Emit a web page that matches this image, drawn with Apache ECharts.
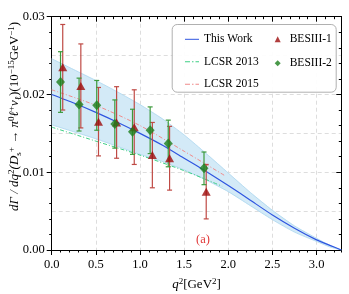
<!DOCTYPE html>
<html>
<head>
<meta charset="utf-8">
<script src="https://cdn.jsdelivr.net/npm/echarts@6/dist/echarts.min.js"></script>
<style>html,body{margin:0;padding:0;background:#fff}#c{width:349px;height:294px}</style>
</head>
<body>
<div id="c"></div>
<script>
// ---- data ----
const qGrid      = [0, 0.25, 0.5, 0.75, 1.0, 1.25, 1.5, 1.75, 2.0, 2.25, 2.5, 2.75, 3.0, 3.15, 3.28];
const thisWork   = [0.0200, 0.0189, 0.0177, 0.0164, 0.0150, 0.0135, 0.0118, 0.0101, 0.0083, 0.0064, 0.0045, 0.0028, 0.0013, 0.0006, 0.0];
const bandUpper  = [0.0246, 0.0232, 0.0218, 0.0203, 0.0187, 0.0169, 0.0148, 0.0124, 0.0099, 0.0074, 0.0051, 0.0031, 0.0015, 0.0006, 0.0];
const bandLower  = [0.0161, 0.0152, 0.0143, 0.0133, 0.0123, 0.0114, 0.0103, 0.0090, 0.0075, 0.0057, 0.0039, 0.0023, 0.0011, 0.0004, 0.0];
const lcsr2013Q  = [0, 0.5, 1.0, 1.5, 1.93];
const lcsr2013   = [0.0158, 0.0140, 0.0122, 0.0102, 0.0082];
const lcsr2015Q  = [0, 0.5, 1.0, 1.5, 1.97];
const lcsr2015   = [0.0206, 0.0186, 0.0160, 0.0127, 0.0095];
const bes1Q      = [0.125, 0.33, 0.53, 0.735, 0.935, 1.14, 1.335, 1.75];
const bes1       = [0.0235, 0.0211, 0.0165, 0.0164, 0.0158, 0.0122, 0.0118, 0.0075];
const bes1Err    = [0.0055, 0.0054, 0.0044, 0.0046, 0.0048, 0.0042, 0.0041, 0.0035];
const bes2Q      = [0.10, 0.31, 0.51, 0.715, 0.915, 1.115, 1.32, 1.725];
const bes2       = [0.0216, 0.0187, 0.0186, 0.0162, 0.0152, 0.0154, 0.0137, 0.0105];
const bes2Err    = [0.0039, 0.0034, 0.0032, 0.0031, 0.0029, 0.0030, 0.0030, 0.0021];
const xMin = 0, xMax = 3.28, xStep = 0.5, xMinor = 0.1;
const yMin = 0, yMax = 0.03, yStep = 0.01, yMinor = 0.002, yGrid = 0.005;
const legendLines = ['This Work', 'LCSR 2013', 'LCSR 2015'];
const legendPoints = ['BESIII-1', 'BESIII-2'];

const FONT = 'Liberation Serif';
const zip = (a, b) => a.map((v, i) => [v, b[i]]);
const chart = echarts.init(document.getElementById('c'), null, {renderer: 'canvas'});

function errorBars(name, xs, ys, es, color) {
  return {
    name: name + ' err', type: 'custom', xAxisIndex: 0, yAxisIndex: 0, z: 3,
    data: xs.map((x, i) => [x, ys[i], es[i]]),
    encode: {x: 0, y: 1},
    renderItem: function (params, api) {
      const x = api.value(0), y = api.value(1), e = api.value(2);
      const t = api.coord([x, y + e]), b = api.coord([x, y - e]);
      const w = 2.5, st = {stroke: color, lineWidth: 1.2};
      return {type: 'group', children: [
        {type: 'line', shape: {x1: t[0], y1: t[1], x2: b[0], y2: b[1]}, style: st},
        {type: 'line', shape: {x1: t[0] - w, y1: t[1], x2: t[0] + w, y2: t[1]}, style: st},
        {type: 'line', shape: {x1: b[0] - w, y1: b[1], x2: b[0] + w, y2: b[1]}, style: st}
      ]};
    }
  };
}

const tickFont = {fontFamily: FONT, fontSize: 12.5, color: '#000'};
const axLine = {show: true, onZero: false, lineStyle: {color: '#000', width: 1}};
function xAx(pos, interval, len, inside, labels, split) {
  return {type: 'value', min: xMin, max: xMax, interval: interval, position: pos,
    axisLine: axLine, axisTick: {show: true, inside: inside, length: len, lineStyle: {color: '#000'}},
    axisLabel: labels ? Object.assign({show: true, margin: 8, showMaxLabel: false,
      formatter: v => v.toFixed(1)}, tickFont) : {show: false},
    splitLine: split ? {show: true, lineStyle: {color: '#dddddd', type: [4, 3], width: 1}} : {show: false}};
}
function yAx(pos, interval, len, inside, labels, split) {
  return {type: 'value', min: yMin, max: yMax, interval: interval, position: pos,
    axisLine: split ? {show: false} : axLine,
    axisTick: {show: !split, inside: inside, length: len, lineStyle: {color: '#000'}},
    axisLabel: labels ? Object.assign({show: true, margin: 7,
      formatter: v => v.toFixed(2)}, tickFont) : {show: false},
    splitLine: split ? {show: true, lineStyle: {color: '#dddddd', type: [4, 3], width: 1}} : {show: false}};
}

const xa0 = xAx('bottom', xStep, 5, false, true, true);
xa0.name = '{i|q}{sp|2}{n|[GeV}{sp|2}{n|]}';
xa0.nameLocation = 'middle';
xa0.nameGap = 27;
xa0.nameMoveOverlap = false;
xa0.nameTextStyle = {fontFamily: FONT, fontSize: 13, color: '#000', rich: {
  i: {fontFamily: FONT, fontSize: 13, fontStyle: 'italic', lineHeight: 16, color: '#000'},
  n: {fontFamily: FONT, fontSize: 13, lineHeight: 16, color: '#000'},
  sp: {fontFamily: FONT, fontSize: 9, lineHeight: 9, verticalAlign: 'top', color: '#000'}
}};
const ya0 = yAx('left', yStep, 5, false, true, false);
ya0.name = '{i|dΓ / dq}{sp|2}{i|(D}{sb|s}{sp|+}{i| → π}{sp|0}{i|ℓ}{sp|+}{i|ν}{sb|ℓ}{n|)(10}{sp|−15}{n|GeV}{sp|−1}{n|)}';
ya0.nameLocation = 'middle';
ya0.nameGap = 29;
ya0.nameRotate = 90;
ya0.nameMoveOverlap = false;
ya0.nameTextStyle = {fontFamily: FONT, fontSize: 13, color: '#000', padding: [0, 0, 0, 34], rich: {
  i: {fontFamily: FONT, fontSize: 13, fontStyle: 'italic', lineHeight: 16, color: '#000'},
  n: {fontFamily: FONT, fontSize: 13, lineHeight: 16, color: '#000'},
  sp: {fontFamily: FONT, fontSize: 9, lineHeight: 9, verticalAlign: 'top', color: '#000'},
  sb: {fontFamily: FONT, fontSize: 9, lineHeight: 9, verticalAlign: 'bottom', color: '#000'}
}};

const legendText = {fontFamily: FONT, fontSize: 11.5, color: '#000', lineHeight: 12};
const DASHDOT = 'path://M0,0h5v1h-5z M7,0h1.5v1h-1.5z M10.5,0h3.5v1h-3.5z';
const SOLID = 'path://M0,0h14v1h-14z';

const BAND_FILL = '#d3eaf7';
const BAND_EDGE = '#a9d6ef';

const option = {
  animation: false,
  backgroundColor: '#fff',
  grid: {left: 51.7, right: 7.7, top: 16.7, bottom: 44, containLabel: false, outerBoundsMode: 'none'},
  title: {text: '(a)', left: 191, top: 228, textStyle: {fontFamily: FONT, fontSize: 12.5, fontWeight: 'normal', color: '#e23a3a'}},
  graphic: [{type: 'rect', left: 171.7, top: 24, z: 50,
    shape: {width: 164, height: 67.7, r: 5},
    style: {fill: 'rgba(255,255,255,0.92)', stroke: '#b0b0b0', lineWidth: 1}}],
  legend: [
    {data: [{name: 'This Work', icon: SOLID}, {name: 'LCSR 2013', icon: DASHDOT}, {name: 'LCSR 2015', icon: DASHDOT}],
     orient: 'vertical', left: 180, top: 28.3, itemWidth: 14, itemHeight: 1.3,
     itemGap: 10.5, textStyle: legendText, z: 60, selectedMode: false},
    {data: legendPoints, orient: 'vertical', left: 269.7, top: 28.3, itemWidth: 6, itemHeight: 6,
     itemGap: 12, textStyle: Object.assign({padding: [0, 0, 0, 4]}, legendText), z: 60, selectedMode: false}
  ],
  xAxis: [
    xa0,
    xAx('bottom', xMinor, 2.5, false, false, false),
    xAx('top', xStep, 5, true, false, false),
    xAx('top', xMinor, 2.5, true, false, false)
  ],
  yAxis: [
    ya0,
    yAx('left', yMinor, 2.5, false, false, false),
    yAx('right', yStep, 5, true, false, false),
    yAx('right', yMinor, 2.5, true, false, false),
    yAx('left', yGrid, 0, false, false, true)
  ],
  series: [
    {name: 'band fill', type: 'custom', xAxisIndex: 0, yAxisIndex: 0, z: 1, silent: true,
     data: [[qGrid[0], bandLower[0]]], encode: {x: 0, y: 1},
     renderItem: function (params, api) {
       const up = qGrid.map((q, i) => api.coord([q, bandUpper[i]]));
       const lo = qGrid.map((q, i) => api.coord([q, bandLower[i]])).reverse();
       return {type: 'polygon', shape: {points: up.concat(lo)}, style: {fill: BAND_FILL, stroke: 'none'}};
     }},
    {name: 'band upper', type: 'line', data: zip(qGrid, bandUpper), symbol: 'none', smooth: 0.2,
     lineStyle: {color: BAND_EDGE, width: 0.8}, z: 1, silent: true},
    {name: 'band lower', type: 'line', data: zip(qGrid, bandLower), symbol: 'none', smooth: 0.2,
     lineStyle: {color: BAND_EDGE, width: 0.8}, z: 1, silent: true},
    {name: 'This Work', type: 'line', data: zip(qGrid, thisWork), symbol: 'none', smooth: 0.2,
     lineStyle: {color: '#2f55e0', width: 1.2}, itemStyle: {color: '#2f55e0'}, z: 2},
    {name: 'LCSR 2013', type: 'line', data: zip(lcsr2013Q, lcsr2013), symbol: 'none', smooth: 0.3,
     lineStyle: {color: '#3fcf85', width: 1, type: [4, 2, 1, 2]}, itemStyle: {color: '#3fcf85'}, z: 2},
    {name: 'LCSR 2015', type: 'line', data: zip(lcsr2015Q, lcsr2015), symbol: 'none', smooth: 0.3,
     lineStyle: {color: '#f08a8a', width: 1, type: [4, 2, 1, 2]}, itemStyle: {color: '#f08a8a'}, z: 2},
    errorBars('BESIII-1', bes1Q, bes1, bes1Err, '#bf4a45'),
    errorBars('BESIII-2', bes2Q, bes2, bes2Err, '#3c9a3c'),
    {name: 'BESIII-1', type: 'scatter', data: zip(bes1Q, bes1), symbol: 'triangle', symbolSize: [9, 8],
     itemStyle: {color: '#9e0c0c'}, z: 4},
    {name: 'BESIII-2', type: 'scatter', data: zip(bes2Q, bes2), symbol: 'diamond', symbolSize: [9, 10],
     itemStyle: {color: '#1d7f1d'}, z: 5}
  ]
};
chart.setOption(option);
</script>
</body>
</html>
